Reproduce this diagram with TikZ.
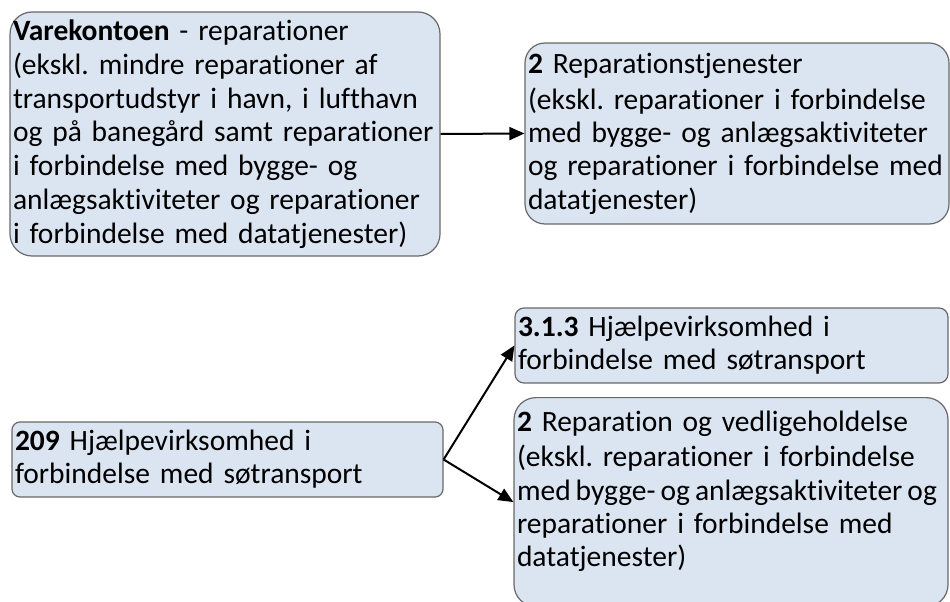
\documentclass[tikz,border=0pt]{standalone}
\usepackage{fontspec}
\setmainfont{Carlito}[Ligatures=NoCommon]
\usetikzlibrary{arrows.meta}
\definecolor{boxfill}{RGB}{219,228,241}
\definecolor{boxline}{RGB}{105,105,105}
\newcommand\boxfont{\fontsize{29.5}{33.2}\selectfont\frenchspacing}

\begin{document}
\begin{tikzpicture}[x=1pt,y=-1pt,
    entry/.style={draw=boxline,fill=boxfill,line width=1.2pt,align=left,
      inner xsep=3pt,inner ysep=2pt,font=\boxfont},
    link/.style={-{Triangle[length=15pt,width=13pt]},line width=2pt}
  ]
    \useasboundingbox (0,0) rectangle (950,602);

    % upper row
    \node[entry,rounded corners=22pt,text width=424pt,minimum height=244pt]
      (varekonto) at (225,134)
      {\textbf{Varekontoen} - reparationer\\[0.6pt]
       (ekskl. mindre reparationer af\\[0.6pt]
       transportudstyr i havn, i lufthavn\\[0.6pt]
       og på banegård samt reparationer\\[0.6pt]
       i forbindelse med bygge- og\\[0.6pt]
       anlægsaktiviteter og reparationer\\[0.6pt]
       i forbindelse med datatjenester)};
    \node[entry,rounded corners=20pt,text width=418pt,minimum height=181pt]
      (reptjeneste) at (737,133.5)
      {\textbf{2} Reparationstjenester\\[3pt]
       (ekskl. reparationer i forbindelse\\
       med bygge- og anlægsaktiviteter\\
       og reparationer i forbindelse med\\
       datatjenester)};

    % lower row
    \node[entry,rounded corners=8pt,text width=425pt,minimum height=75pt]
      (hjaelp) at (227.5,459.5)
      {\textbf{209} Hjælpevirksomhed i\\
       forbindelse med søtransport};
    \node[entry,rounded corners=9pt,text width=427pt,minimum height=75pt]
      (hjaelpsoe) at (731.5,345.5)
      {\textbf{3.1.3} Hjælpevirksomhed i\\
       forbindelse med søtransport};
    \node[entry,rounded corners=22pt,text width=428pt,anchor=north,
      text height=32pt,text depth=173pt]
      (vedligehold) at (731,397)
      {\textbf{2} Reparation og vedligeholdelse\\[2pt]
       (ekskl. reparationer i forbindelse\\
       \mbox{\spaceskip=0.17em med bygge- og anlægsaktiviteter og}\\
       reparationer i forbindelse med\\
       datatjenester)};

    % arrows
    \draw[link] (varekonto.east) -- (reptjeneste.west);
    \draw[link] (hjaelp.east) -- (hjaelpsoe.west);
    \draw[link] (hjaelp.east) -- (vedligehold.west);
\end{tikzpicture}
\end{document}
